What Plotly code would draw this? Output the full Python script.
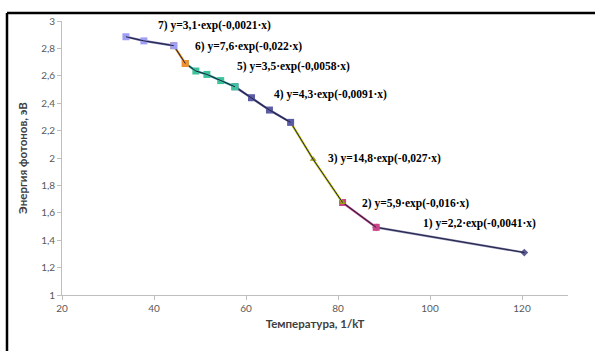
import plotly.graph_objects as go

# Data (x = 1/kT, y = photon energy, eV)
s7_x = [33.9, 37.8, 44.3]
s7_y = [2.885, 2.855, 2.82]
s6_x = [44.3, 46.8]
s6_y = [2.82, 2.69]
s5_x = [46.8, 49.1, 51.5, 54.5, 57.6]
s5_y = [2.69, 2.635, 2.61, 2.565, 2.52]
s4_x = [57.6, 61.2, 65.1, 69.7]
s4_y = [2.52, 2.44, 2.35, 2.26]
s3_x = [69.7, 74.6, 81.0]
s3_y = [2.26, 1.99, 1.675]
s2_x = [81.0, 88.3]
s2_y = [1.675, 1.494]
s1_x = [88.3, 120.5]
s1_y = [1.494, 1.31]

labels = [
    "7) y=3,1·exp(-0,0021·x)",
    "6) y=7,6·exp(-0,022·x)",
    "5) y=3,5·exp(-0,0058·x)",
    "4) y=4,3·exp(-0,0091·x)",
    "3) y=14,8·exp(-0,027·x)",
    "2) y=5,9·exp(-0,016·x)",
    "1) y=2,2·exp(-0,0041·x)",
]
label_x = [40.5, 48.5, 57.6, 65.7, 77.4, 84.8, 98.1]
label_y = [2.97, 2.815, 2.67, 2.46, 2.0, 1.665, 1.52]

x_ticks = [20, 40, 60, 80, 100, 120]
y_ticks = [1, 1.2, 1.4, 1.6, 1.8, 2, 2.2, 2.4, 2.6, 2.8, 3]

series = [
    (s1_x, s1_y, "#7a7aa8", "#5b5b8f", "diamond", 6),
    (s2_x, s2_y, "#b03a78", "#cc4488", "square", 7),
    (s3_x, s3_y, "#c8c814", "#9c9c10", "triangle-up", 6),
    (s4_x, s4_y, "#4a4a8a", "#5c5ca6", "square", 7),
    (s5_x, s5_y, "#1a9c8c", "#3cc39a", "square", 7),
    (s6_x, s6_y, "#d98a1a", "#f09030", "square", 7),
    (s7_x, s7_y, "#6a6aa8", "#9e9ef5", "square", 7),
]

fig = go.Figure()
for xs, ys, lc, mc, sym, ms in series:
    fig.add_trace(go.Scatter(x=xs, y=ys, mode="lines+markers",
                             line=dict(color=lc, width=2.2),
                             marker=dict(color=mc, symbol=sym, size=ms, line=dict(width=0)),
                             showlegend=False, hoverinfo="skip"))
    fig.add_trace(go.Scatter(x=xs, y=ys, mode="lines",
                             line=dict(color="#202040", width=1),
                             showlegend=False, hoverinfo="skip"))

for t, lx, ly in zip(labels, label_x, label_y):
    fig.add_annotation(x=lx, y=ly, text="<b>" + t + "</b>", showarrow=False, xanchor="left", yanchor="middle",
                       font=dict(family="Times New Roman, Liberation Serif, DejaVu Serif, serif", size=11.5, color="black"))

axis_font = dict(family="Lato", size=10, color="#595959")
fig.update_xaxes(range=[20, 130], tickvals=x_ticks, ticktext=[str(v) for v in x_ticks], automargin=False,
                 showgrid=False, zeroline=False, showline=True, linecolor="#bfbfbf", linewidth=1,
                 ticks="outside", ticklen=4, tickcolor="#bfbfbf", tickfont=axis_font,
                 title=dict(text="<b>Температура, 1/kT</b>", font=dict(family="Lato", size=11.5, color="#404040"), standoff=6))
fig.update_yaxes(range=[1, 3], tickvals=y_ticks, ticktext=[f"{v:g}".replace(".", ",") for v in y_ticks], automargin=False,
                 showgrid=False, zeroline=False, showline=True, linecolor="#bfbfbf", linewidth=1,
                 ticks="outside", ticklen=4, tickcolor="#bfbfbf", tickfont=axis_font,
                 title=dict(text="<b>Энергия фотонов, эВ</b>", font=dict(family="Lato", size=11.5, color="#404040"), standoff=11))

# Frame (top and left edges of the outer border)
fig.add_shape(type="line", xref="paper", yref="paper", x0=-0.1087, x1=1.06, y0=1.029, y1=1.029,
              line=dict(color="black", width=2.5))
fig.add_shape(type="line", xref="paper", yref="paper", x0=-0.1087, x1=-0.1087, y0=1.029, y1=-0.21,
              line=dict(color="black", width=2.5))

fig.update_layout(width=595, height=351, margin=dict(l=62, r=27, t=21, b=56),
                  paper_bgcolor="white", plot_bgcolor="white")
fig.write_html("out.html", config={"displayModeBar": False},
               post_script="document.body.style.margin='0';document.body.style.padding='0';")
